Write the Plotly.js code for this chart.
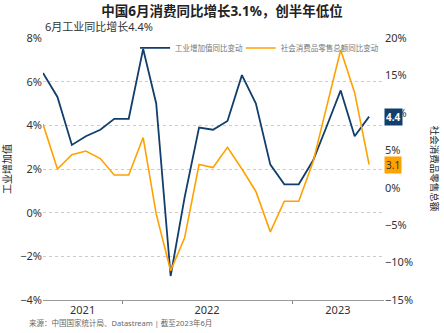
<!DOCTYPE html>
<html>
<head>
<meta charset="utf-8">
<script src="https://cdn.plot.ly/plotly-3.0.1.min.js"></script>
<style>html,body{margin:0;padding:0;background:#fff;}#chart{width:444px;height:333px;}</style>
</head>
<body>
<div id="chart"></div>
<script>
const months = ['2021-07','2021-08','2021-09','2021-10','2021-11','2021-12',
  '2022-01','2022-02','2022-03','2022-04','2022-05','2022-06',
  '2022-07','2022-08','2022-09','2022-10','2022-11','2022-12',
  '2023-01','2023-02','2023-03','2023-04','2023-05','2023-06'];
const industrial = [6.4,5.3,3.1,3.5,3.8,4.3,4.3,7.5,5.0,-2.9,0.7,3.9,3.8,4.2,6.3,5.0,2.2,1.3,1.3,2.4,3.9,5.6,3.5,4.4];
const retail = [8.5,2.5,4.4,4.9,3.9,1.7,1.7,6.7,-3.5,-11.1,-6.7,3.1,2.7,5.4,2.5,-0.5,-5.9,-1.8,-1.8,3.5,10.6,18.4,12.7,3.1];
const yearLabels = ['2021','2022','2023'];
const yearLabelDates = ['2021-10-08','2022-07-02','2023-04-09'];
const yearBoundaries = ['2022-01-01','2023-01-01'];
const seriesNames = ['工业增加值同比变动','社会消费品零售总额同比变动'];

const NAVY = '#123e6c';
const ORANGE = '#ffa100';
const FONT = 'Noto Sans, Noto Sans CJK SC, sans-serif';
const x = months.map(m => m + '-15');
const xRange = ['2021-07-15','2023-07-17'];

const traces = [
  {x: x, y: industrial, type: 'scatter', mode: 'lines', name: seriesNames[0],
   line: {color: NAVY, width: 1.8}, yaxis: 'y', xaxis: 'x', legend: 'legend'},
  {x: x, y: retail, type: 'scatter', mode: 'lines', name: seriesNames[1],
   line: {color: ORANGE, width: 1.6}, yaxis: 'y2', xaxis: 'x', legend: 'legend2'},
  {x: yearBoundaries, y: [null, null], type: 'scatter', mode: 'lines', xaxis: 'x2', yaxis: 'y',
   showlegend: false, hoverinfo: 'skip'}
];

const legendCommon = {orientation: 'h', y: 0.962, yanchor: 'middle', xanchor: 'left',
  font: {size: 7.5, color: '#777'}, bgcolor: 'rgba(0,0,0,0)', borderwidth: 0, itemwidth: 30};

const layout = {
  width: 444, height: 333,
  margin: {l: 43, r: 60, t: 38, b: 33},
  paper_bgcolor: '#fff', plot_bgcolor: '#fff',
  font: {family: FONT, color: '#333', size: 11},
  title: {text: '<b>中国6月消费同比增长3.1%，创半年低位</b>', x: 0.5, xref: 'container', xanchor: 'center',
          y: 0.966, yref: 'container', yanchor: 'middle', font: {size: 13.5, color: '#222', family: FONT}},
  xaxis: {type: 'date', range: xRange, tickmode: 'array', tickvals: yearLabelDates, ticktext: yearLabels,
          ticks: '', showgrid: false, zeroline: false, showline: true, linecolor: '#9a9a9a', linewidth: 1,
          tickfont: {size: 11, color: '#333'}, fixedrange: true},
  xaxis2: {type: 'date', range: xRange, overlaying: 'x', tickmode: 'array', tickvals: yearBoundaries,
           ticks: 'outside', ticklen: 3, tickcolor: '#888', showticklabels: false, showgrid: false,
           zeroline: false, showline: false},
  yaxis: {range: [-4, 8], dtick: 2, tick0: 0, ticksuffix: '%', showgrid: true, gridcolor: '#cccccc',
          griddash: 'dot', gridwidth: 1, zeroline: false, ticks: '', tickfont: {size: 11, color: '#333'},
          title: {text: '工业增加值', font: {size: 10, color: '#222'}, standoff: 6}},
  yaxis2: {range: [-15, 20], dtick: 5, tick0: 0, ticksuffix: '%', overlaying: 'y', side: 'right',
           showgrid: false, zeroline: false, ticks: '', tickfont: {size: 11, color: '#333'}},
  showlegend: true,
  legend: Object.assign({}, legendCommon, {x: 0.27}),
  legend2: Object.assign({}, legendCommon, {x: 0.58}),
  annotations: [
    {text: '6月工业同比增长4.4%', xref: 'paper', yref: 'paper', x: 0, y: 1.045, xanchor: 'left',
     yanchor: 'middle', showarrow: false, font: {size: 11, color: '#333'}},
    {text: '来源：中国国家统计局、Datastream | 截至2023年6月', xref: 'paper', yref: 'paper', x: -0.047,
     y: -0.088, xanchor: 'left', yanchor: 'middle', showarrow: false, font: {size: 7.5, color: '#666'}},
    {text: '社会消费品零售总额', xref: 'paper', yref: 'paper', x: 1.15, y: 0.5, textangle: 90,
     xanchor: 'center', yanchor: 'middle', showarrow: false, font: {size: 9.5, color: '#222'}},
    {text: '<b>' + industrial[industrial.length - 1] + '</b>', xref: 'paper', yref: 'y', x: 1,
     y: industrial[industrial.length - 1], xanchor: 'left', yanchor: 'middle', xshift: 0, showarrow: false,
     bgcolor: NAVY, borderpad: 1, font: {size: 10, color: '#fff'}},
    {text: String(retail[retail.length - 1]), xref: 'paper', yref: 'y2', x: 1,
     y: retail[retail.length - 1], xanchor: 'left', yanchor: 'middle', xshift: 0, showarrow: false,
     bgcolor: ORANGE, borderpad: 1, font: {size: 10, color: '#333'}}
  ]
};

Plotly.newPlot('chart', traces, layout, {staticPlot: true, displayModeBar: false});
</script>
</body>
</html>
